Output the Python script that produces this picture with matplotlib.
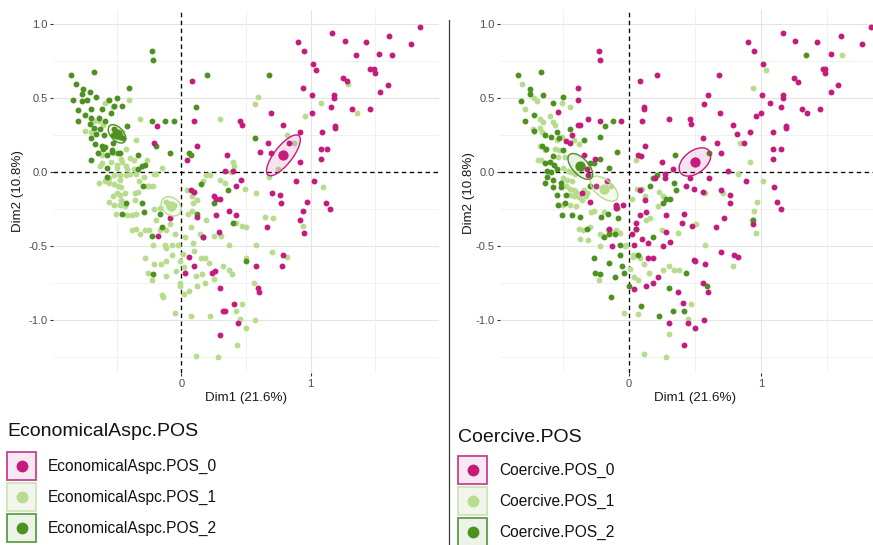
import numpy as np
import matplotlib.pyplot as plt
from matplotlib.patches import Polygon, Rectangle

plt.rcParams['font.family'] = ['Liberation Sans', 'DejaVu Sans']

# group colours (0, 1, 2)
colors = ['#C51B7D', '#B8DC8E', '#4D9221']
key_fill = ['#F7E9F1', '#F1F5EC', '#EEF3EA']
key_edge = ['#C8418F', '#CFE4B6', '#5E9C48']

# ---- panel 1: EconomicalAspc.POS ----
econ_0 = [(1.85, 0.98), (1.61, 0.92), (1.78, 0.87), (1.17, 0.94), (1.27, 0.89), (1.43, 0.88), (0.90, 0.88),
          (0.95, 0.82), (1.35, 0.79), (1.53, 0.80), (1.63, 0.79), (1.02, 0.73), (1.04, 0.69), (1.46, 0.70),
          (1.49, 0.70), (1.50, 0.67), (1.25, 0.64), (1.28, 0.62), (1.60, 0.59), (1.54, 0.54), (0.94, 0.57),
          (1.01, 0.52), (1.18, 0.52), (1.18, 0.50), (1.32, 0.43), (1.46, 0.43), (1.16, 0.44), (1.01, 0.40),
          (0.69, 0.40), (0.79, 0.32), (0.92, 0.27), (1.09, 0.27), (1.19, 0.31), (1.19, 0.30), (0.67, 0.20),
          (0.83, 0.20), (1.13, 0.16), (1.08, 0.16), (0.61, 0.14), (0.69, 0.13), (1.08, 0.09), (0.92, 0.07),
          (0.89, -0.06), (1.03, -0.06), (0.70, -0.14), (0.76, -0.15), (0.77, -0.21), (0.97, -0.20),
          (1.12, -0.21), (1.15, -0.25), (0.94, -0.26), (0.92, -0.32), (0.95, -0.41), (0.66, -0.37),
          (0.79, -0.56), (0.78, -0.63), (0.575, -0.63), (0.59, -0.78), (0.60, -0.81), (0.41, -0.89),
          (0.44, -1.02), (0.30, -1.10), (0.32, -0.94), (0.34, -0.94), (0.30, -0.78), (0.26, -0.67),
          (0.24, -0.68), (0.10, -0.63), (0.06, -0.57), (0.03, -0.68), (0.17, -0.44), (0.29, -0.40),
          (0.37, -0.26), (0.42, -0.29), (0.27, -0.29), (0.12, -0.30), (0.25, -0.16), (0.27, -0.18),
          (0.30, -0.18), (0.07, -0.12), (0.10, -0.13), (0.42, -0.09), (0.46, -0.05), (0.34, 0.01),
          (0.40, 0.01), (0.04, 0.08), (0.35, 0.12), (0.12, 0.18), (0.10, 0.35), (0.08, 0.62), (0.45, 0.35),
          (0.47, 0.32), (-0.19, 0.31), (-0.21, 0.20), (-0.09, -0.31), (-0.18, -0.43)]
econ_1 = [(1.36, 0.40), (1.29, 0.60), (1.08, 0.47), (0.96, 0.38), (0.87, 0.20), (0.82, 0.25), (0.75, 0.02),
          (0.68, -0.03), (1.10, -0.10), (0.59, 0.51), (0.57, 0.46), (0.65, -0.30), (0.71, -0.31),
          (0.94, -0.36), (0.70, -0.54), (0.82, -0.57), (0.58, -0.49), (0.50, -0.37), (0.47, -0.36),
          (0.50, -0.58), (0.56, -0.75), (0.57, -1.00), (0.50, -1.05), (0.47, -0.89), (0.42, -0.94),
          (0.45, -0.99), (0.43, -1.17), (0.28, -1.25), (0.11, -1.24), (0.22, -0.97), (0.07, -0.97),
          (-0.05, -0.95), (0.12, -0.77), (0.18, -0.75), (0.16, -0.69), (0.11, -0.70), (0.25, -0.72),
          (0.39, -0.69), (0.32, -0.63), (0.37, -0.66), (0.15, -0.58), (0.18, -0.58), (0.21, -0.61),
          (0.10, -0.53), (0.01, -0.55), (-0.01, -0.60), (0.02, -0.64), (-0.07, -0.56), (-0.12, -0.60),
          (-0.16, -0.62), (-0.21, -0.62), (-0.28, -0.58), (-0.26, -0.68), (-0.23, -0.73), (-0.12, -0.70),
          (-0.04, -0.67), (-0.01, -0.75), (-0.15, -0.83), (-0.14, -0.84), (-0.01, -0.77), (0.06, -0.80),
          (0.02, -0.82), (-0.22, -0.49), (-0.13, -0.49), (-0.12, -0.51), (-0.07, -0.49), (-0.03, -0.49),
          (0.09, -0.48), (0.14, -0.42), (0.25, -0.43), (0.31, -0.43), (0.37, -0.49), (0.42, -0.34),
          (0.19, -0.32), (0.07, -0.37), (0.03, -0.44), (-0.05, -0.42), (-0.12, -0.39), (-0.09, -0.35),
          (-0.17, -0.39), (-0.20, -0.32), (-0.25, -0.39), (-0.35, -0.38), (-0.38, -0.39), (-0.32, -0.42),
          (-0.28, -0.39), (-0.21, -0.25), (-0.17, -0.24), (-0.09, -0.23), (-0.06, -0.22), (-0.07, -0.24),
          (-0.12, -0.20), (0.04, -0.12), (0.08, -0.16), (0.12, -0.19), (0.09, -0.21), (0.05, -0.28),
          (0.08, -0.26), (0.17, -0.06), (0.22, -0.02), (0.19, -0.02), (0.30, -0.05), (0.34, -0.07),
          (0.40, 0.07), (0.41, 0.04), (0.38, 0.00), (0.49, -0.11), (0.58, -0.14), (0.30, 0.36),
          (-0.15, 0.03), (-0.20, -0.01), (-0.22, -0.09), (-0.27, -0.09), (-0.33, -0.06), (-0.35, -0.01),
          (-0.37, 0.02), (-0.40, -0.01), (-0.42, 0.02), (-0.43, -0.02), (-0.48, -0.02), (-0.50, 0.03),
          (-0.52, -0.02), (-0.56, -0.04), (-0.56, -0.07), (-0.52, -0.08), (-0.49, -0.09), (-0.47, -0.10),
          (-0.48, -0.05), (-0.64, -0.07), (-0.59, -0.06), (-0.50, -0.14), (-0.48, -0.15), (-0.47, -0.19),
          (-0.53, -0.16), (-0.56, -0.20), (-0.52, -0.22), (-0.51, -0.28), (-0.48, -0.22), (-0.44, -0.23),
          (-0.42, -0.29), (-0.38, -0.29), (-0.35, -0.28), (-0.36, -0.14), (-0.36, -0.19), (-0.34, -0.13),
          (-0.44, -0.14), (-0.40, 0.10), (-0.37, 0.08), (-0.43, 0.04), (-0.46, 0.07), (-0.50, 0.05),
          (-0.55, 0.07), (-0.62, 0.06), (-0.63, 0.04), (-0.35, 0.22), (-0.32, 0.36), (-0.41, 0.49),
          (-0.57, 0.49), (-0.53, 0.44), (-0.70, 0.27), (-0.68, 0.35), (-0.64, 0.35), (-0.61, 0.32),
          (-0.46, 0.27), (-0.48, 0.25), (-0.62, 0.12), (-0.29, -0.03), (-0.59, 0.47), (-0.75, 0.28),
          (-0.43, 0.16), (-0.52, 0.13), (-0.47, 0.09), (-0.27, 0.08), (-0.21, -0.01), (-0.25, -0.09)]
econ_2 = [(-0.86, 0.66), (-0.68, 0.68), (-0.82, 0.60), (-0.76, 0.56), (-0.77, 0.53), (-0.71, 0.54),
          (-0.66, 0.51), (-0.84, 0.49), (-0.73, 0.49), (-0.77, 0.48), (-0.56, 0.49), (-0.50, 0.50),
          (-0.41, 0.57), (-0.52, 0.45), (-0.46, 0.45), (-0.80, 0.42), (-0.70, 0.43), (-0.62, 0.43),
          (-0.55, 0.40), (-0.75, 0.39), (-0.70, 0.37), (-0.64, 0.37), (-0.80, 0.35), (-0.59, 0.35),
          (-0.71, 0.33), (-0.68, 0.30), (-0.63, 0.29), (-0.52, 0.29), (-0.42, 0.31), (-0.66, 0.26),
          (-0.60, 0.25), (-0.53, 0.25), (-0.48, 0.24), (-0.45, 0.23), (-0.70, 0.23), (-0.67, 0.19),
          (-0.62, 0.18), (-0.59, 0.17), (-0.61, 0.16), (-0.65, 0.13), (-0.58, 0.12), (-0.54, 0.14),
          (-0.49, 0.13), (-0.70, 0.08), (-0.58, 0.03), (-0.58, -0.03), (-0.34, 0.02), (-0.28, 0.05),
          (-0.30, -0.09), (-0.43, -0.21), (-0.46, -0.28), (-0.31, -0.21), (-0.29, -0.27), (-0.17, -0.28),
          (-0.15, -0.37), (-0.23, -0.43), (-0.22, -0.69), (-0.23, 0.82), (-0.22, 0.76), (-0.23, 0.35),
          (-0.13, 0.35), (-0.06, 0.35), (-0.09, 0.13), (-0.20, 0.18), (0.20, 0.66), (0.11, 0.44),
          (0.06, 0.13), (0.07, 0.12), (0.15, -0.08), (0.12, -0.28), (0.25, -0.21), (0.36, -0.12),
          (0.40, -0.34), (0.17, -0.44), (0.50, -0.60), (0.68, 0.66), (0.57, 0.23), (-0.34, 0.12),
          (-0.31, 0.04), (-0.53, 0.20), (-0.54, 0.15), (-0.48, 0.13)]
# group means and confidence ellipse half-axes (data units)
econ_means = [(0.79, 0.115), (-0.08, -0.23), (-0.50, 0.26)]
econ_ell = [((0.119, 0.133), (-0.055, 0.037)),
            ((0.065, -0.048), (0.042, 0.044)),
            ((0.057, -0.055), (0.037, 0.029))]

# ---- panel 2: Coercive.POS ----
coer_0 = [(1.84, 0.98), (1.61, 0.92), (1.77, 0.87), (1.17, 0.94), (1.26, 0.89), (1.43, 0.88), (0.90, 0.88),
          (0.95, 0.82), (1.53, 0.80), (1.02, 0.73), (1.47, 0.70), (1.49, 0.70), (1.49, 0.67), (0.68, 0.66),
          (1.25, 0.64), (1.28, 0.61), (1.59, 0.59), (1.53, 0.54), (1.01, 0.52), (1.17, 0.52), (1.17, 0.50),
          (0.60, 0.52), (0.57, 0.46), (1.07, 0.47), (1.15, 0.44), (1.31, 0.43), (1.35, 0.40), (1.45, 0.43),
          (1.00, 0.40), (0.96, 0.38), (0.69, 0.40), (0.46, 0.36), (0.47, 0.33), (0.30, 0.36), (0.11, 0.43),
          (0.10, 0.35), (0.08, 0.62), (0.21, 0.66), (-0.23, 0.82), (-0.22, 0.76), (-0.39, 0.57),
          (-0.39, 0.49), (-0.31, 0.36), (-0.22, 0.35), (-0.06, 0.35), (-0.39, 0.32), (-0.37, 0.32),
          (-0.48, 0.21), (-0.45, 0.20), (-0.43, 0.25), (-0.54, 0.41), (-0.34, 0.12), (-0.255, 0.09),
          (0.12, 0.18), (0.07, 0.12), (0.09, 0.11), (0.25, 0.07), (0.56, 0.23), (0.67, 0.20), (0.79, 0.32),
          (0.82, 0.26), (0.87, 0.20), (0.92, 0.27), (1.09, 0.27), (1.19, 0.31), (1.19, 0.30), (1.15, 0.16),
          (1.09, 0.16), (1.09, 0.09), (0.70, 0.13), (0.75, 0.01), (0.61, -0.04), (0.46, -0.04),
          (0.43, -0.09), (0.49, -0.11), (0.89, -0.06), (1.10, -0.10), (0.70, -0.12), (0.77, -0.15),
          (0.77, -0.21), (1.12, -0.20), (1.15, -0.25), (0.94, -0.35), (0.72, -0.31), (0.66, -0.37),
          (0.42, -0.28), (0.40, -0.34), (0.48, -0.36), (0.27, -0.04), (0.20, -0.04), (0.27, -0.01),
          (0.33, 0.02), (0.08, -0.12), (0.12, -0.19), (0.08, -0.29), (0.13, -0.27), (0.056, -0.34),
          (0.05, -0.38), (0.02, -0.42), (0.10, -0.45), (0.14, -0.48), (0.04, -0.49), (0.145, -0.58),
          (0.18, -0.58), (0.22, -0.71), (0.18, -0.75), (0.13, -0.77), (0.035, -0.79), (0.28, -0.29),
          (0.28, -0.40), (0.31, -0.47), (0.26, -0.50), (0.49, -0.59), (0.50, -0.60), (0.58, -0.62),
          (0.80, -0.56), (0.83, -0.57), (0.70, -0.54), (0.56, -0.75), (0.60, -0.81), (0.37, -0.81),
          (0.41, -0.885), (0.45, -1.02), (0.50, -1.05), (0.57, -1.00), (0.30, -1.02), (0.42, -1.17),
          (-0.10, -0.22), (-0.10, -0.24), (-0.045, -0.22), (-0.15, -0.38), (-0.13, -0.50), (-0.36, -0.14),
          (-0.30, -0.20), (-0.25, -0.09), (-0.17, -0.06), (-0.31, -0.02), (-0.32, 0.02), (0.56, -0.135),
          (0.11, 0.44)]
coer_1 = [(-0.81, 0.60), (-0.72, 0.50), (-0.70, 0.48), (-0.79, 0.43), (-0.68, 0.36), (-0.65, 0.34),
          (-0.60, 0.38), (-0.58, 0.34), (-0.56, 0.32), (-0.51, 0.47), (-0.45, 0.44), (-0.73, 0.29),
          (-0.68, 0.30), (-0.66, 0.27), (-0.51, 0.24), (-0.55, 0.22), (-0.68, 0.18), (-0.64, 0.15),
          (-0.56, 0.16), (-0.53, 0.15), (-0.69, 0.08), (-0.67, 0.08), (-0.54, 0.105), (-0.49, 0.105),
          (-0.50, 0.03), (-0.46, 0.01), (-0.41, -0.01), (-0.44, 0.00), (-0.50, -0.04), (-0.47, -0.05),
          (-0.43, -0.06), (-0.48, -0.09), (-0.45, -0.11), (-0.42, -0.12), (-0.45, -0.15), (-0.42, -0.16),
          (-0.40, -0.13), (-0.38, -0.17), (-0.34, -0.12), (-0.32, -0.14), (-0.33, -0.16), (-0.50, -0.22),
          (-0.45, -0.22), (-0.40, -0.23), (-0.29, -0.27), (-0.38, -0.38), (-0.35, -0.39), (-0.37, -0.45),
          (-0.31, -0.46), (-0.22, -0.42), (-0.20, -0.43), (-0.22, -0.50), (-0.16, -0.39), (-0.14, -0.40),
          (-0.10, -0.39), (-0.19, -0.27), (-0.07, -0.41), (-0.02, -0.49), (-0.03, -0.50), (0.03, -0.56),
          (0.03, -0.57), (0.08, -0.58), (0.11, -0.62), (0.15, -0.68), (0.01, -0.65), (0.04, -0.71),
          (0.07, -0.73), (-0.23, -0.73), (-0.04, -0.95), (0.07, -0.96), (0.30, -1.09), (0.28, -1.245),
          (0.11, -1.23), (0.47, -0.89), (0.45, -0.99), (0.26, -0.66), (0.30, -0.63), (0.34, -0.66),
          (0.37, -0.41), (0.51, -0.35), (0.58, -0.49), (0.575, -0.14), (0.71, -0.14), (0.79, -0.63),
          (0.93, -0.32), (0.95, -0.26), (0.97, -0.20), (0.96, -0.41), (1.02, -0.06), (0.92, 0.07),
          (0.83, -0.01), (0.84, 0.20), (1.04, 0.69), (0.94, 0.57), (1.62, 0.79), (0.05, 0.08),
          (0.06, -0.11), (0.10, -0.11), (0.12, -0.16), (0.26, -0.16), (0.22, -0.23), (0.23, -0.13),
          (0.02, -0.18), (0.16, -0.31), (0.13, -0.32), (0.25, -0.39), (0.38, -0.66), (-0.30, -0.37),
          (-0.27, -0.26), (-0.36, -0.19), (-0.14, -0.09), (-0.42, 0.22), (-0.38, 0.19)]
coer_2 = [(-0.84, 0.66), (-0.67, 0.68), (-0.75, 0.56), (-0.75, 0.53), (-0.82, 0.48), (-0.65, 0.52),
          (-0.58, 0.47), (-0.50, 0.51), (-0.79, 0.35), (-0.72, 0.39), (-0.72, 0.28), (-0.64, 0.25),
          (-0.59, 0.24), (-0.55, 0.27), (-0.53, 0.23), (-0.66, 0.18), (-0.63, 0.16), (-0.58, 0.11),
          (-0.50, 0.15), (-0.45, 0.29), (-0.34, 0.22), (-0.18, 0.31), (-0.12, 0.35), (-0.22, 0.24),
          (-0.09, 0.14), (-0.15, 0.03), (-0.36, 0.04), (-0.30, 0.06), (-0.27, 0.06), (-0.22, 0.09),
          (-0.64, 0.06), (-0.60, 0.07), (-0.57, 0.05), (-0.62, 0.01), (-0.59, 0.00), (-0.55, 0.02),
          (-0.64, -0.07), (-0.58, -0.05), (-0.52, -0.07), (-0.48, -0.15), (-0.55, -0.15), (-0.49, -0.21),
          (-0.51, -0.29), (-0.43, -0.29), (-0.37, -0.30), (-0.32, -0.38), (-0.27, -0.58), (-0.26, -0.68),
          (-0.22, -0.69), (-0.14, -0.84), (-0.15, -0.61), (-0.11, -0.71), (-0.21, -0.30), (-0.16, -0.28),
          (-0.09, -0.24), (-0.085, -0.31), (-0.15, -0.42), (-0.19, -0.44), (-0.11, -0.42), (-0.07, -0.49),
          (-0.07, -0.56), (-0.05, -0.63), (-0.04, -0.68), (0.00, -0.77), (0.09, -0.90), (0.23, -0.97),
          (0.33, -0.94), (0.415, -0.94), (0.43, -0.68), (0.30, -0.78), (0.07, -0.56), (0.18, -0.44),
          (0.05, -0.38), (0.26, -0.21), (0.28, -0.18), (0.31, -0.18), (0.16, -0.09), (0.18, -0.04),
          (0.21, -0.02), (0.34, -0.07), (0.36, -0.12), (0.35, 0.12), (0.61, 0.13), (1.34, 0.79),
          (0.59, -0.77), (0.94, -0.32), (-0.30, -0.09), (-0.10, -0.23), (-0.54, -0.22), (-0.58, -0.10),
          (-0.52, -0.10), (-0.62, -0.03)]
coer_means = [(0.50, 0.07), (-0.19, -0.11), (-0.37, 0.04)]
coer_ell = [((0.108, 0.075), (-0.052, 0.059)),
            ((0.096, -0.072), (0.042, 0.044)),
            ((0.083, -0.079), (0.044, 0.037))]

econ_labels = ['EconomicalAspc.POS_0', 'EconomicalAspc.POS_1', 'EconomicalAspc.POS_2']
coer_labels = ['Coercive.POS_0', 'Coercive.POS_1', 'Coercive.POS_2']

fig = plt.figure(figsize=(8.73, 5.45), dpi=100)


def draw_panel(ax, groups, means, ells, xlim):
    # grid first
    for v in [-1.25, -0.75, -0.25, 0.25, 0.75]:
        ax.axhline(v, color='#EFEFEF', lw=0.6, zorder=0)
    for v in [-1.0, -0.5, 0.5, 1.0]:
        ax.axhline(v, color='#E4E4E4', lw=0.8, zorder=0)
    for v in [-0.5, 0.5, 1.5]:
        ax.axvline(v, color='#EFEFEF', lw=0.6, zorder=0)
    ax.axvline(1.0, color='#E4E4E4', lw=0.8, zorder=0)

    for g in [1, 2, 0]:
        pts = np.array(groups[g])
        ax.scatter(pts[:, 0], pts[:, 1], s=18, color=colors[g], linewidths=0, zorder=2)

    t = np.linspace(0, 2 * np.pi, 100)
    for g in range(3):
        c = np.array(means[g])
        u = np.array(ells[g][0])
        v = np.array(ells[g][1])
        poly = c + np.outer(np.cos(t), u) + np.outer(np.sin(t), v)
        ax.add_patch(Polygon(poly, closed=True, facecolor=colors[g], alpha=0.12, lw=0, zorder=3))
        ax.add_patch(Polygon(poly, closed=True, fill=False, edgecolor=colors[g], lw=1.0, zorder=3))
        ax.scatter([c[0]], [c[1]], s=55, color=colors[g], linewidths=0, zorder=4)

    ax.axhline(0, color='black', lw=0.95, ls=(0, (3.4, 2.6)), zorder=1)
    ax.axvline(0, color='black', lw=0.95, ls=(0, (3.4, 2.6)), zorder=1)

    ax.set_xlim(*xlim)
    ax.set_ylim(-1.356, 1.097)
    ax.set_xticks([0, 1])
    ax.set_xticklabels(['0', '1'])
    ax.set_yticks([-1.0, -0.5, 0.0, 0.5, 1.0])
    ax.set_yticklabels(['-1.0', '-0.5', '0.0', '0.5', '1.0'])
    ax.tick_params(length=2.5, width=0.8, color='#333333', labelcolor='#4D4D4D',
                   labelsize=8, pad=1.5)
    for s in ax.spines.values():
        s.set_visible(False)


ax1 = fig.add_axes([53 / 873, 172 / 545, 386 / 873, 363 / 545])
draw_panel(ax1, [econ_0, econ_1, econ_2], econ_means, econ_ell, (-0.996, 1.996))
ax2 = fig.add_axes([500 / 873, 172 / 545, 373 / 873, 363 / 545])
draw_panel(ax2, [coer_0, coer_1, coer_2], coer_means, coer_ell, (-0.98, 1.852))

# overlay in pixel coordinates for labels, legends and the separator
ov = fig.add_axes([0, 0, 1, 1], facecolor='none')
ov.set_xlim(0, 873)
ov.set_ylim(545, 0)
ov.axis('off')

ov.plot([449, 449], [20, 545], color='#3A3A3A', lw=0.9)

for cx, cy in [(246, 398), (695, 398)]:
    ov.text(cx, cy, 'Dim1 (21.6%)', fontsize=9.6, color='#1A1A1A', ha='center', va='center')
for cx, cy in [(18, 191), (469, 193)]:
    ov.text(cx, cy, 'Dim2 (10.8%)', fontsize=9.6, color='#1A1A1A', ha='center', va='center',
            rotation=90)


def draw_legend(x0, title_y, box_y0, title, labels):
    ov.text(x0, title_y, title, fontsize=14, color='#111111', ha='left', va='center')
    for i in range(3):
        y0 = box_y0 + i * 31
        ov.add_patch(Rectangle((x0, y0), 29, 28, facecolor=key_fill[i], edgecolor=key_edge[i], lw=1.3))
        ov.plot([x0 + 14.5], [y0 + 14], 'o', ms=8.5, color=colors[i], mec='none')
        ov.text(x0 + 41, y0 + 14.5, labels[i], fontsize=11.2, color='#111111', ha='left', va='center')


draw_legend(7, 432, 452, 'EconomicalAspc.POS', econ_labels)
draw_legend(458, 437, 456, 'Coercive.POS', coer_labels)

fig.savefig('out.png', dpi=100)
